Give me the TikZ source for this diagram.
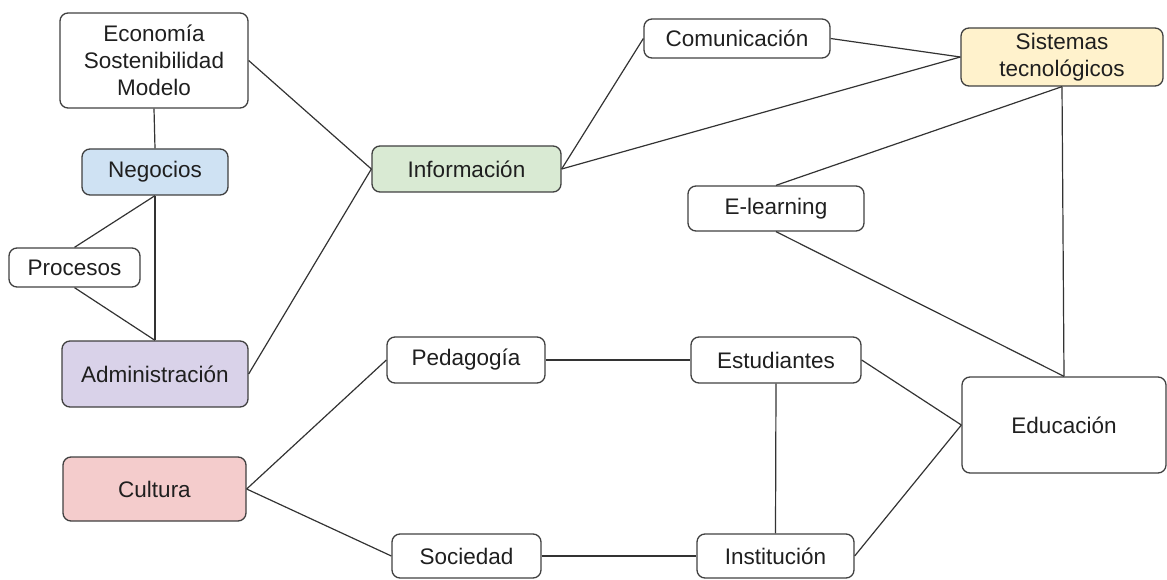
\documentclass[tikz,border=0pt]{standalone}
\usepackage{fontspec}
\setmainfont{Liberation Sans}
\begin{document}
\begin{tikzpicture}[x=1pt,y=-1pt,
  box/.style={draw=black!75, line width=1.3pt, rounded corners=8pt, inner sep=0pt,
    align=center, text=black!88, font=\fontsize{22.5}{27}\selectfont},
  link/.style={draw=black!80, line width=1.2pt}]
\definecolor{cblue}{HTML}{CFE2F3}
\definecolor{cpurple}{HTML}{D9D2E9}
\definecolor{cred}{HTML}{F4CCCC}
\definecolor{cgreen}{HTML}{D9EAD3}
\definecolor{cyellow}{HTML}{FFF2CC}
\useasboundingbox (0,0) rectangle (1167,580);

% concept boxes
\node[box, minimum width=188pt, minimum height=95pt] (econ) at (154,60.5) {Economía\\Sostenibilidad\\Modelo};
\node[box, fill=cblue, minimum width=146pt, minimum height=46pt] (neg) at (155,172) {Negocios};
\node[box, minimum width=131pt, minimum height=39pt] (proc) at (74.5,267.5) {Procesos};
\node[box, fill=cpurple, minimum width=186pt, minimum height=66pt] (admin) at (155,374) {Administración};
\node[box, fill=cred, minimum width=183pt, minimum height=64pt] (cult) at (154.5,489) {Cultura};
\node[box, fill=cgreen, minimum width=189pt, minimum height=46pt] (info) at (466.5,169) {Información};
\node[box, minimum width=186pt, minimum height=39pt] (com) at (737,38.5) {Comunicación};
\node[box, fill=cyellow, minimum width=202pt, minimum height=58pt] (sist) at (1062,57) {Sistemas\\tecnológicos};
\node[box, minimum width=176pt, minimum height=45pt] (elearn) at (776,208.5) {E-learning};
\node[box, minimum width=158pt, minimum height=46pt] (ped) at (466,360) {Pedagogía};
\node[box, minimum width=170pt, minimum height=46pt] (est) at (776,360) {Estudiantes};
\node[box, minimum width=149pt, minimum height=44pt] (soc) at (466.5,556) {Sociedad};
\node[box, minimum width=157pt, minimum height=44pt] (inst) at (775.5,556) {Institución};
\node[box, minimum width=204pt, minimum height=96pt] (edu) at (1064,425) {Educación};

% connectors
\draw[link] (econ.south) -- (neg.north);
\draw[link] (econ.east) -- (info.west);
\draw[link] (neg.south) -- (proc.north);
\draw[link] (neg.south) -- (admin.north);
\draw[link] (proc.south) -- (admin.north);
\draw[link] (admin.east) -- (info.west);
\draw[link] (info.east) -- (com.west);
\draw[link] (info.east) -- (sist.west);
\draw[link] (com.east) -- (sist.west);
\draw[link] (sist.south) -- (elearn.north);
\draw[link] (sist.south) -- (edu.north);
\draw[link] (elearn.south) -- (edu.north);
\draw[link] (cult.east) -- (ped.west);
\draw[link] (cult.east) -- (soc.west);
\draw[link] (ped.east) -- (est.west);
\draw[link] (est.south) -- (inst.north);
\draw[link] (est.east) -- (edu.west);
\draw[link] (soc.east) -- (inst.west);
\draw[link] (inst.east) -- (edu.west);
\end{tikzpicture}
\end{document}
